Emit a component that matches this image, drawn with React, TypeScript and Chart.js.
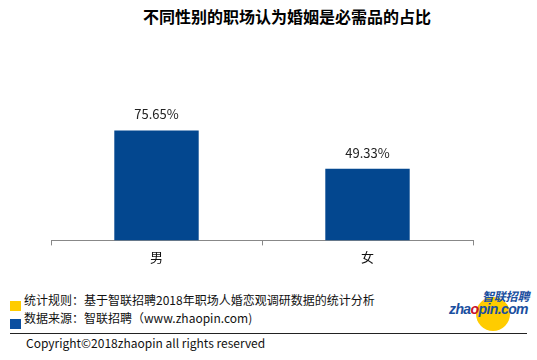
import React, { useEffect, useRef } from "react";
import { Chart, registerables } from "chart.js";

Chart.register(...registerables);

const TITLE = "不同性别的职场认为婚姻是必需品的占比";
const categories = ["男", "女"];
const values = [75.65, 49.33];
const valueLabels = ["75.65%", "49.33%"];
const noteRule = "统计规则：基于智联招聘2018年职场人婚恋观调研数据的统计分析";
const noteSource = "数据来源：智联招聘（www.zhaopin.com)";
const copyright = "Copyright©2018zhaopin all rights reserved";

const FONT = '"Noto Sans CJK SC", "Noto Sans", sans-serif';
const BAR = "#03478f";

const valueLabelPlugin = {
  id: "valueLabels",
  afterDatasetsDraw(chart: any) {
    const ctx = chart.ctx;
    const meta = chart.getDatasetMeta(0);
    ctx.save();
    ctx.font = `13px ${FONT}`;
    ctx.fillStyle = "#222";
    ctx.textAlign = "center";
    ctx.textBaseline = "middle";
    meta.data.forEach((el: any, i: number) => {
      ctx.fillText(valueLabels[i], el.x, el.y - 16);
    });
    ctx.restore();
  },
};

export default function App() {
  const ref = useRef<HTMLCanvasElement | null>(null);
  useEffect(() => {
    document.body.style.margin = "0";
    const chart = new Chart(ref.current as HTMLCanvasElement, {
      type: "bar",
      data: {
        labels: categories,
        datasets: [
          {
            data: values,
            backgroundColor: BAR,
            barPercentage: 0.4,
            categoryPercentage: 1,
          },
        ],
      },
      options: {
        animation: false,
        responsive: false,
        maintainAspectRatio: false,
        layout: { padding: { left: 51, right: 64, top: 95, bottom: 11 } },
        plugins: { legend: { display: false }, tooltip: { enabled: false } },
        scales: {
          y: { display: false, min: 0, max: 100 },
          x: {
            grid: {
              offset: true,
              drawOnChartArea: false,
              drawTicks: true,
              tickLength: 5,
              color: "#888",
            },
            border: { display: true, color: "#888", width: 1 },
            ticks: { color: "#111", font: { family: FONT, size: 13 }, padding: 4 },
          },
        },
      },
      plugins: [valueLabelPlugin],
    } as any);
    return () => chart.destroy();
  }, []);

  const txt: React.CSSProperties = { position: "absolute", fontFamily: FONT, color: "#111", whiteSpace: "nowrap" };

  return (
    <div style={{ position: "absolute", left: 0, top: 0, width: 537, height: 360, background: "#fff", overflow: "hidden" }}>
      <div style={{ ...txt, top: 6, left: 143, width: 227, textAlign: "center", fontSize: 16, fontWeight: 700, lineHeight: "20px", color: "#000" }}>
        {TITLE}
      </div>
      <canvas ref={ref} width={537} height={280} style={{ position: "absolute", left: 0, top: 0 }} />
      <div style={{ position: "absolute", left: 10, top: 301, width: 11, height: 10, background: "#ffcc00" }} />
      <div style={{ position: "absolute", left: 10, top: 319, width: 11, height: 10, background: "#0a4ea0" }} />
      <div style={{ ...txt, left: 24, top: 292, fontSize: 12, lineHeight: "16px" }}>{noteRule}</div>
      <div style={{ ...txt, left: 24, top: 310, fontSize: 12, lineHeight: "16px" }}>{noteSource}</div>
      <div style={{ position: "absolute", left: 10, top: 333, width: 517, height: 1, background: "#222" }} />
      <div style={{ ...txt, left: 26, top: 335, fontSize: 12, lineHeight: "16px" }}>{copyright}</div>
      {/* logo */}
      <div style={{ position: "absolute", left: 476, top: 297, width: 34, height: 34, borderRadius: "50%", background: "#ffcc00" }} />
      <div style={{ ...txt, left: 482, top: 289, fontSize: 12, lineHeight: "14px", fontWeight: 700, fontStyle: "italic", color: "#1a4f9f", letterSpacing: -0.2 }}>
        智联招聘
      </div>
      <div style={{ ...txt, left: 449, top: 302, fontSize: 14, lineHeight: "14px", fontWeight: 700, fontStyle: "italic", color: "#1a4f9f", fontFamily: '"Liberation Sans", Arial, sans-serif', letterSpacing: -0.6 }}>
        zha<span style={{ color: "#c8102e" }}>o</span>pin.com
      </div>
    </div>
  );
}
